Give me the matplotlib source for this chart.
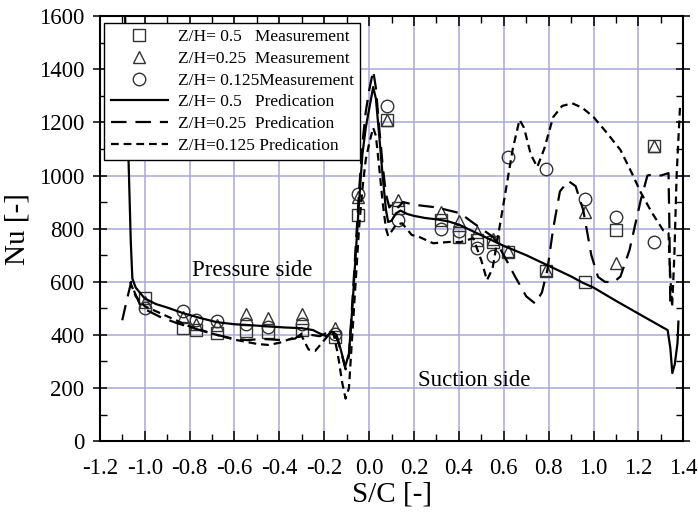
import numpy as np
import matplotlib
matplotlib.use("Agg")
import matplotlib.pyplot as plt
from matplotlib.ticker import MultipleLocator

plt.rcParams['font.family'] = ['Liberation Serif', 'DejaVu Serif']

# measurement positions (S/C)
x_meas = [-1.0, -0.83, -0.77, -0.68, -0.55, -0.45, -0.30, -0.15, -0.05, 0.08,
          0.13, 0.32, 0.40, 0.48, 0.55, 0.62, 0.79, 0.96, 1.10, 1.27]
nu_sq = [538, 425, 420, 408, 416, 410, 418, 393, 851, 1208,
         878, 832, 770, 757, 749, 712, 642, 598, 794, 1111]
nu_tri = [525, 467, 440, 437, 478, 463, 478, 425, 919, 1210,
          907, 862, 828, 787, 760, 715, 645, 862, 670, 1111]
nu_circ = [502, 490, 455, 452, 440, 430, 440, 405, 932, 1262,
           832, 798, 792, 727, 698, 1069, 1025, 912, 843, 749]

# predictions
x_p05 = [-1.09, -1.075, -1.062, -1.055, -1.04, -1.0, -0.95, -0.9, -0.83, -0.75,
         -0.68, -0.6, -0.54, -0.45, -0.38, -0.3, -0.25, -0.22, -0.19, -0.165,
         -0.145, -0.125, -0.107, -0.09, -0.075, -0.06, -0.045, -0.03, -0.015, 0.0,
         0.018, 0.03, 0.045, 0.06, 0.075, 0.085, 0.1, 0.12, 0.14, 0.17,
         0.2, 0.25, 0.3, 0.35, 0.4, 0.45, 0.5, 0.55, 0.6, 0.7,
         0.8, 0.9, 0.95, 1.0, 1.1, 1.2, 1.3, 1.33, 1.342, 1.351,
         1.362, 1.374, 1.378]
nu_p05 = [1700, 1150, 750, 612, 578, 537, 516, 503, 482, 463,
          448, 440, 437, 432, 428, 425, 418, 405, 395, 412,
          400, 340, 280, 330, 500, 700, 900, 1080, 1180, 1250,
          1333, 1290, 1150, 1000, 870, 825, 830, 858, 868, 855,
          848, 840, 835, 828, 815, 795, 775, 755, 735, 700,
          660, 620, 597, 578, 528, 480, 432, 418, 350, 256,
          290, 369, 450]

x_p025 = [-1.1, -1.08, -1.06, -1.045, -1.02, -1.0, -0.93, -0.856, -0.754, -0.68,
          -0.607, -0.544, -0.48, -0.384, -0.33, -0.3, -0.22, -0.17, -0.14, -0.12,
          -0.105, -0.09, -0.075, -0.06, -0.045, -0.03, -0.015, 0.0, 0.018, 0.03,
          0.045, 0.06, 0.075, 0.09, 0.11, 0.13, 0.15, 0.21, 0.3, 0.406,
          0.45, 0.5, 0.553, 0.6, 0.65, 0.7, 0.74, 0.77, 0.794, 0.82,
          0.85, 0.887, 0.92, 0.954, 0.99, 1.02, 1.05, 1.088, 1.12, 1.16,
          1.21, 1.24, 1.27, 1.3, 1.334, 1.338, 1.342]
nu_p025 = [455, 530, 600, 560, 512, 497, 467, 444, 418, 400,
           386, 380, 385, 380, 386, 405, 395, 415, 380, 320,
           270, 320, 520, 730, 940, 1120, 1240, 1320, 1395, 1330,
           1180, 1040, 930, 880, 900, 880, 900, 889, 880, 858,
           830, 800, 768, 700, 620, 545, 518, 560, 644, 800,
           940, 980, 960, 870, 700, 618, 600, 597, 620, 719,
           907, 1000, 1005, 1000, 1009, 800, 505]

x_p0125 = [-1.065, -1.04, -1.0, -0.9, -0.8, -0.7, -0.6, -0.5, -0.45, -0.4,
           -0.35, -0.3, -0.27, -0.24, -0.21, -0.18, -0.16, -0.14, -0.12, -0.105,
           -0.09, -0.075, -0.06, -0.045, -0.03, -0.015, 0.0, 0.018, 0.03, 0.045,
           0.06, 0.075, 0.085, 0.1, 0.12, 0.147, 0.19, 0.22, 0.285, 0.36,
           0.406, 0.464, 0.5, 0.525, 0.55, 0.58, 0.61, 0.64, 0.67, 0.69,
           0.72, 0.749, 0.78, 0.82, 0.86, 0.905, 0.95, 1.0, 1.06, 1.12,
           1.17, 1.21, 1.26, 1.31, 1.334, 1.34, 1.35, 1.36, 1.37, 1.385]
nu_p0125 = [600, 545, 508, 470, 432, 405, 382, 366, 362, 370,
            385, 395, 345, 340, 370, 400, 410, 330, 220, 160,
            200, 400, 600, 800, 950, 1060, 1120, 1180, 1150, 1030,
            900, 800, 772, 790, 815, 820, 776, 770, 745, 750,
            749, 764, 680, 606, 650, 800, 950, 1100, 1210, 1180,
            1080, 1032, 1100, 1220, 1262, 1272, 1255, 1220, 1160, 1096,
            1010, 937, 860, 794, 783, 650, 505, 700, 1000, 1257]

fig = plt.figure(figsize=(6.98, 5.22), dpi=100)
ax = fig.add_axes([0.143, 0.155, 0.836, 0.814])

ms = 9
ax.plot(x_meas, nu_sq, ls='none', marker='s', ms=ms, mfc='none', mec='#333333', mew=1.0,
        label='Z/H= 0.5   Measurement')
ax.plot(x_meas, nu_tri, ls='none', marker='^', ms=ms, mfc='none', mec='#333333', mew=1.0,
        label='Z/H=0.25  Measurement')
ax.plot(x_meas, nu_circ, ls='none', marker='o', ms=ms, mfc='none', mec='#333333', mew=1.0,
        label='Z/H= 0.125Measurement')
ax.plot(x_p05, nu_p05, color='black', lw=1.6, label='Z/H= 0.5   Predication')
ax.plot(x_p025, nu_p025, color='black', lw=1.6, dashes=(7, 4), label='Z/H=0.25  Predication')
ax.plot(x_p0125, nu_p0125, color='black', lw=1.6, dashes=(3.5, 2.2), label='Z/H=0.125 Predication')

ax.set_xlim(-1.2, 1.4)
ax.set_ylim(0, 1600)
ax.xaxis.set_major_locator(MultipleLocator(0.2))
ax.xaxis.set_minor_locator(MultipleLocator(0.1))
ax.yaxis.set_major_locator(MultipleLocator(200))
ax.yaxis.set_minor_locator(MultipleLocator(100))
ax.set_xticklabels([f'{v:.1f}' for v in ax.get_xticks()])

ax.set_axisbelow(True)
ax.grid(True, which='major', color='#a8a8d6', lw=1.1)
ax.tick_params(axis='both', which='major', labelsize=16.5, top=True, right=True,
               direction='in', length=7, width=1.1)
ax.tick_params(axis='x', which='major', pad=12)
ax.tick_params(axis='y', which='major', direction='inout', length=10, pad=6)
ax.tick_params(axis='both', which='minor', top=True, right=True, direction='in',
               length=5, width=1.0)
for sp in ax.spines.values():
    sp.set_linewidth(1.5)

ax.set_xlabel('S/C [-]', fontsize=21, labelpad=2)
ax.set_ylabel('Nu [-]', fontsize=21, labelpad=6)

ax.text(-0.52, 644, 'Pressure side', fontsize=16.5, ha='center', va='center')
ax.text(0.47, 230, 'Suction side', fontsize=16.5, ha='center', va='center')

leg = ax.legend(loc='upper left', bbox_to_anchor=(0.008, 0.984), fontsize=12.5,
                frameon=True, fancybox=False, framealpha=1, edgecolor='black',
                handlelength=3.3, handletextpad=0.6, labelspacing=0.32,
                borderpad=0.35, borderaxespad=0)
leg.get_frame().set_linewidth(1.0)

fig.savefig('out.png', dpi=100)
